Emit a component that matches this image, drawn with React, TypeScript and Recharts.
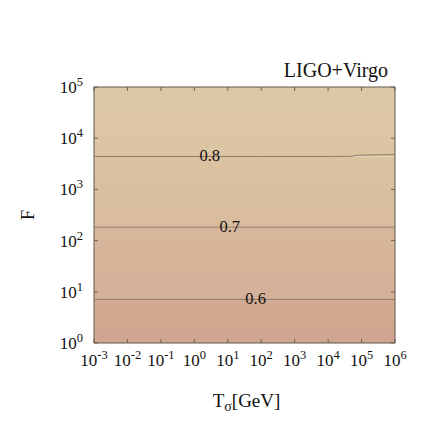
import React from "react";
import { ComposedChart, XAxis, YAxis, Line, Scatter, ReferenceArea, ReferenceDot, Label } from "recharts";

// decade ticks
const xTicks = [1e-3, 1e-2, 1e-1, 1, 1e1, 1e2, 1e3, 1e4, 1e5, 1e6];
const yTicks = [1, 1e1, 1e2, 1e3, 1e4, 1e5];
const xDomain = [1e-3, 1e6];
const yDomain = [1, 1e5];

// contour lines (x: T_sigma in GeV, y: F)
const c08 = [
  { x: 1e-3, y: 4400 },
  { x: 1e2, y: 4400 },
  { x: 1e4, y: 4400 },
  { x: 5e4, y: 4420 },
  { x: 7e4, y: 4650 },
  { x: 1e6, y: 4800 },
];
const c07 = [
  { x: 1e-3, y: 183 },
  { x: 1e6, y: 183 },
];
const c06 = [
  { x: 1e-3, y: 7.1 },
  { x: 1e6, y: 7.1 },
];

const contourLabels = [
  { x: 2.9, y: 4400, label: "0.8" },
  { x: 11.5, y: 183, label: "0.7" },
  { x: 68, y: 7.1, label: "0.6" },
];

// filled bands, bottom to top
const bandEdges = [1, 7.1, 183, 4400, 1e5];
const bandTop = ["#d2ab92", "#d7b79b", "#dbc2a0", "#ddc8a5"];
const bandBottom = ["#cfa58e", "#d4b098", "#d8bc9d", "#dbc4a2"];

const FONT = "Liberation Serif, serif";
const TICK_COLOR = "#6f6357";
const exp = (v: number) => String(Math.round(Math.log10(v)));

const XTick = (props: any) => {
  const { x, y, payload } = props;
  return (
    <text x={x} y={y + 23} textAnchor="middle" fontFamily={FONT} fontSize={17} fill="#111">
      <tspan>10</tspan>
      <tspan dy={-7} fontSize={12.5}>{exp(payload.value)}</tspan>
    </text>
  );
};

const YTick = (props: any) => {
  const { x, y, payload } = props;
  return (
    <text x={x - 11} y={y + 6} textAnchor="end" fontFamily={FONT} fontSize={17} fill="#111">
      <tspan>10</tspan>
      <tspan dy={-7} fontSize={12.5}>{exp(payload.value)}</tspan>
    </text>
  );
};

const LabelShape = (props: any) => {
  const { cx, cy, payload } = props;
  return (
    <text x={cx} y={cy + 5} textAnchor="middle" fontFamily={FONT} fontSize={16.5} fill="#111">
      {payload.label}
    </text>
  );
};

// short inward tick drawn from a point on the frame
const TickMark = (props: any) => {
  const { cx, cy, ddx, ddy } = props;
  return <path d={`M${cx},${cy}L${cx + ddx},${cy + ddy}`} stroke={TICK_COLOR} strokeWidth={1} fill="none" />;
};

const axisCommon = {
  type: "number" as const,
  scale: "log" as const,
  allowDataOverflow: true,
  interval: 0 as const,
};

export default function App() {
  return (
    <div style={{ position: "absolute", left: 0, top: 0, width: 430, height: 430, background: "#fff" }}>
      <ComposedChart width={430} height={430} margin={{ top: 87, right: 35, bottom: 57, left: 0 }}>
        <defs>
          {bandTop.map((c, i) => (
            <linearGradient key={i} id={`band${i}`} x1="0" y1="0" x2="0" y2="1">
              <stop offset="0%" stopColor={c} />
              <stop offset="100%" stopColor={bandBottom[i]} />
            </linearGradient>
          ))}
        </defs>

        <XAxis
          dataKey="x"
          {...axisCommon}
          domain={xDomain}
          ticks={xTicks}
          tickLine={false}
          axisLine={false}
          tickSize={0}
          tickMargin={0}
          tick={<XTick />}
          height={30}
        >
          <Label
            content={(p: any) => {
              const vb = p.viewBox;
              return (
                <text x={vb.x + vb.width / 2 + 2} y={vb.y + 64} textAnchor="middle" fontFamily={FONT} fontSize={19} fill="#111">
                  T<tspan dy={4} fontSize={14}>σ</tspan>
                  <tspan dy={-4}>[GeV]</tspan>
                </text>
              );
            }}
          />
        </XAxis>

        <YAxis
          {...axisCommon}
          domain={yDomain}
          ticks={yTicks}
          tickLine={false}
          axisLine={false}
          tickSize={0}
          tickMargin={0}
          tick={<YTick />}
          width={94}
        >
          <Label
            content={(p: any) => {
              const vb = p.viewBox;
              const cy = vb.y + vb.height / 2;
              return (
                <text x={34} y={cy} transform={`rotate(-90, 34, ${cy})`} textAnchor="middle" fontFamily={FONT} fontSize={19} fill="#111">
                  F
                </text>
              );
            }}
          />
        </YAxis>

        {bandTop.map((_, i) => (
          <ReferenceArea
            key={i}
            x1={xDomain[0]}
            x2={xDomain[1]}
            y1={bandEdges[i]}
            y2={bandEdges[i + 1]}
            fill={`url(#band${i})`}
            fillOpacity={1}
            stroke="none"
            ifOverflow="hidden"
          />
        ))}

        <Line data={c08} dataKey="y" stroke="#8c7b68" strokeWidth={1} dot={false} isAnimationActive={false} />
        <Line data={c07} dataKey="y" stroke="#8c7b68" strokeWidth={1} dot={false} isAnimationActive={false} />
        <Line data={c06} dataKey="y" stroke="#8c7b68" strokeWidth={1} dot={false} isAnimationActive={false} />

        <Scatter data={contourLabels} dataKey="y" shape={<LabelShape />} isAnimationActive={false} />

        {/* inward ticks on all four sides */}
        {xTicks.map((x) => (
          <ReferenceDot key={`t${x}`} x={x} y={yDomain[1]} ifOverflow="visible" shape={<TickMark ddx={0} ddy={4} />} />
        ))}
        {xTicks.map((x) => (
          <ReferenceDot key={`b${x}`} x={x} y={yDomain[0]} ifOverflow="visible" shape={<TickMark ddx={0} ddy={-4} />} />
        ))}
        {yTicks.map((y) => (
          <ReferenceDot key={`l${y}`} x={xDomain[0]} y={y} ifOverflow="visible" shape={<TickMark ddx={4} ddy={0} />} />
        ))}
        {yTicks.map((y) => (
          <ReferenceDot key={`r${y}`} x={xDomain[1]} y={y} ifOverflow="visible" shape={<TickMark ddx={-4} ddy={0} />} />
        ))}

        <ReferenceArea
          x1={xDomain[0]}
          x2={xDomain[1]}
          y1={yDomain[0]}
          y2={yDomain[1]}
          fill="none"
          stroke="#5f564c"
          strokeWidth={1}
        >
          <Label
            content={(p: any) => {
              const vb = p.viewBox;
              return (
                <text x={vb.x + vb.width - 7} y={vb.y - 10} textAnchor="end" fontFamily={FONT} fontSize={20} fill="#111">
                  LIGO+Virgo
                </text>
              );
            }}
          />
        </ReferenceArea>
      </ComposedChart>
    </div>
  );
}
